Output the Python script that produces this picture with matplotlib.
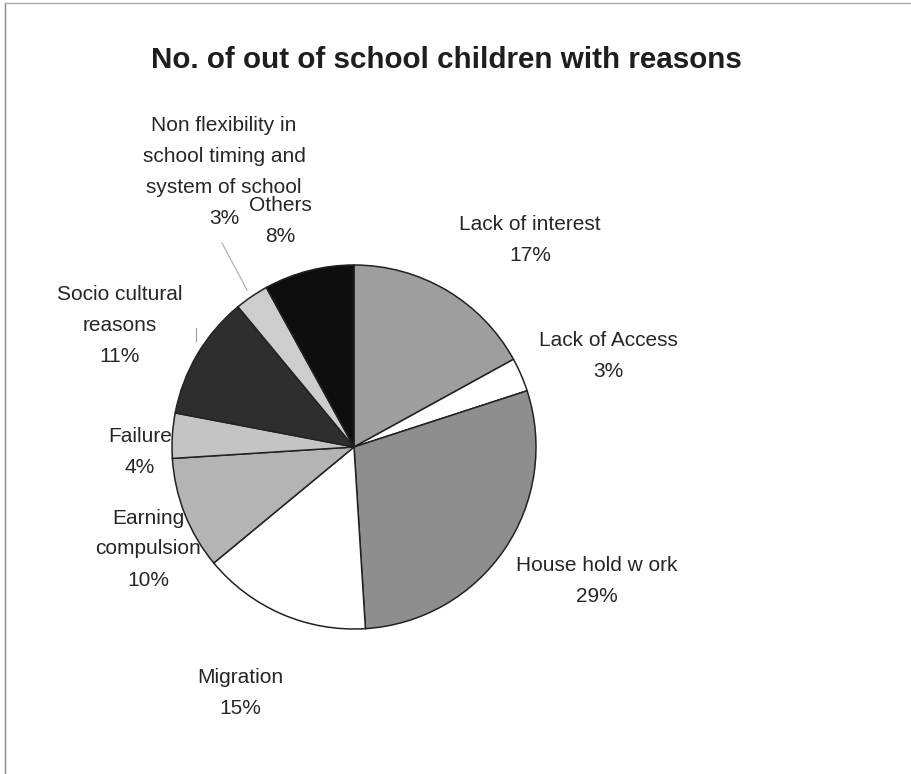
import matplotlib.pyplot as plt
from matplotlib.lines import Line2D

reasons = ['Lack of interest', 'Lack of Access', 'House hold w ork', 'Migration',
           'Earning\ncompulsion', 'Failure', 'Socio cultural\nreasons',
           'Non flexibility in\nschool timing and\nsystem of school', 'Others']
shares = [17, 3, 29, 15, 10, 4, 11, 3, 8]
colors = ['#9e9e9e', '#ffffff', '#8e8e8e', '#ffffff', '#b4b4b4',
          '#c4c4c4', '#2e2e2e', '#cdcdcd', '#0e0e0e']
# label centres in image pixels (x, y from top)
label_pos = [(530, 240), (608, 356), (597, 581), (240, 693), (148, 549),
             (140, 452), (120, 326), (224, 172), (280, 221)]

W, H = 912, 774
fig = plt.figure(figsize=(W / 100, H / 100), dpi=100)
ax = fig.add_axes([0, 0, 1, 1])
ax.set_xlim(0, W)
ax.set_ylim(0, H)
ax.set_aspect('equal')
ax.axis('off')

ax.pie(shares, colors=colors, startangle=90, counterclock=False,
       center=(354, H - 447), radius=182,
       wedgeprops=dict(edgecolor='#222222', linewidth=1.1))
ax.set_xlim(0, W)
ax.set_ylim(0, H)

for name, val, (x, y) in zip(reasons, shares, label_pos):
    ax.text(x, H - y, f'{name}\n{val}%', ha='center', va='center',
            fontsize=15, family='Liberation Sans', color='#262626',
            linespacing=1.8)

# leader lines
ax.plot([222, 247], [H - 243, H - 290], color='#aaaaaa', lw=0.8)
ax.plot([196, 196], [H - 328, H - 341], color='#999999', lw=0.8)

fig.text(446 / W, 1 - 60 / H, 'No. of out of school children with reasons',
         ha='center', va='center', fontsize=21.3, fontweight='bold',
         family='Liberation Sans', color='#1e1e1e')

fig.add_artist(Line2D([5 / W, 5 / W], [0, 1 - 3 / H], color='#888888', lw=1))
fig.add_artist(Line2D([5 / W, 1], [1 - 3 / H, 1 - 3 / H], color='#aaaaaa', lw=1))

fig.savefig('out.png', dpi=100, facecolor='white')
